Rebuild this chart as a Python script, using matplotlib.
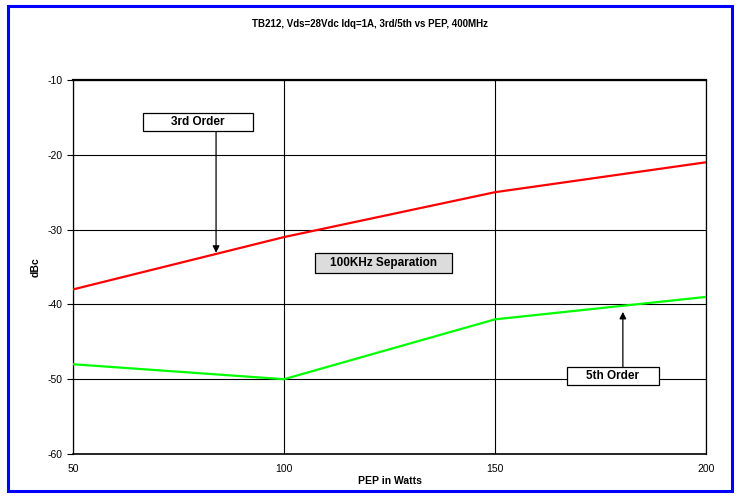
import matplotlib
matplotlib.use('Agg')
import matplotlib.pyplot as plt
from matplotlib.patches import Rectangle

plt.rcParams['font.family'] = ['Liberation Sans', 'DejaVu Sans']
plt.rcParams['axes.unicode_minus'] = False

# data
pep = [50, 100, 150, 200]
third = [-38, -31, -25, -21]
fifth = [-48, -50, -42, -39]
xticks = [50, 100, 150, 200]
yticks = [-60, -50, -40, -30, -20, -10]

fig = plt.figure(figsize=(7.39, 4.96), dpi=100)
fig.patches.append(Rectangle((0.011, 0.01), 0.98, 0.978, transform=fig.transFigure,
                             fill=False, edgecolor='#0000ff', linewidth=2.2))

ax = fig.add_axes([73 / 739, 1 - 454 / 496, (706 - 73) / 739, (454 - 80) / 496])
ax.plot(pep, third, color='#ff0000', linewidth=1.6, zorder=3)
ax.plot(pep, fifth, color='#00ff00', linewidth=1.6, zorder=3)

ax.set_xlim(50, 200)
ax.set_ylim(-60, -10)
ax.set_xticks(xticks)
ax.set_yticks(yticks)
ax.grid(True, color='black', linewidth=0.8)
ax.tick_params(axis='y', length=4, labelsize=7.5, direction='out')
ax.tick_params(axis='x', length=0, labelsize=7.5, pad=7)
for s in ax.spines.values():
    s.set_linewidth(0.9)
ax.spines['top'].set_linewidth(1.6)
ax.spines['bottom'].set_linewidth(1.2)

ax.set_xlabel('PEP in Watts', fontsize=7.5, fontweight='bold', labelpad=2)
ax.set_ylabel('dBc', fontsize=7.5, fontweight='bold', labelpad=5)
fig.text(0.5, 1 - 24 / 496, 'TB212, Vds=28Vdc Idq=1A, 3rd/5th vs PEP, 400MHz',
         ha='center', va='center', fontsize=7, fontweight='bold')


def label_box(x0, x1, y0, y1, text, face):
    ax.add_patch(Rectangle((x0, y0), x1 - x0, y1 - y0, facecolor=face,
                           edgecolor='black', linewidth=0.9, zorder=6))
    ax.text((x0 + x1) / 2, (y0 + y1) / 2, text, ha='center', va='center',
            fontsize=8.5, fontweight='bold', zorder=7)


arrow = dict(arrowstyle='-|>', color='black', linewidth=0.9, mutation_scale=10,
             shrinkA=0, shrinkB=0)

label_box(66.6, 92.7, -16.8, -14.4, '3rd Order', 'white')
ax.annotate('', xy=(83.9, -33.1), xytext=(83.9, -16.8), arrowprops=arrow, zorder=5)

label_box(167.0, 188.9, -50.8, -48.4, '5th Order', 'white')
ax.annotate('', xy=(180.3, -41.0), xytext=(180.3, -48.4), arrowprops=arrow, zorder=5)

label_box(107.3, 139.8, -35.8, -33.1, '100KHz Separation', '#dcdcdc')

fig.savefig('out.png', dpi=100)
